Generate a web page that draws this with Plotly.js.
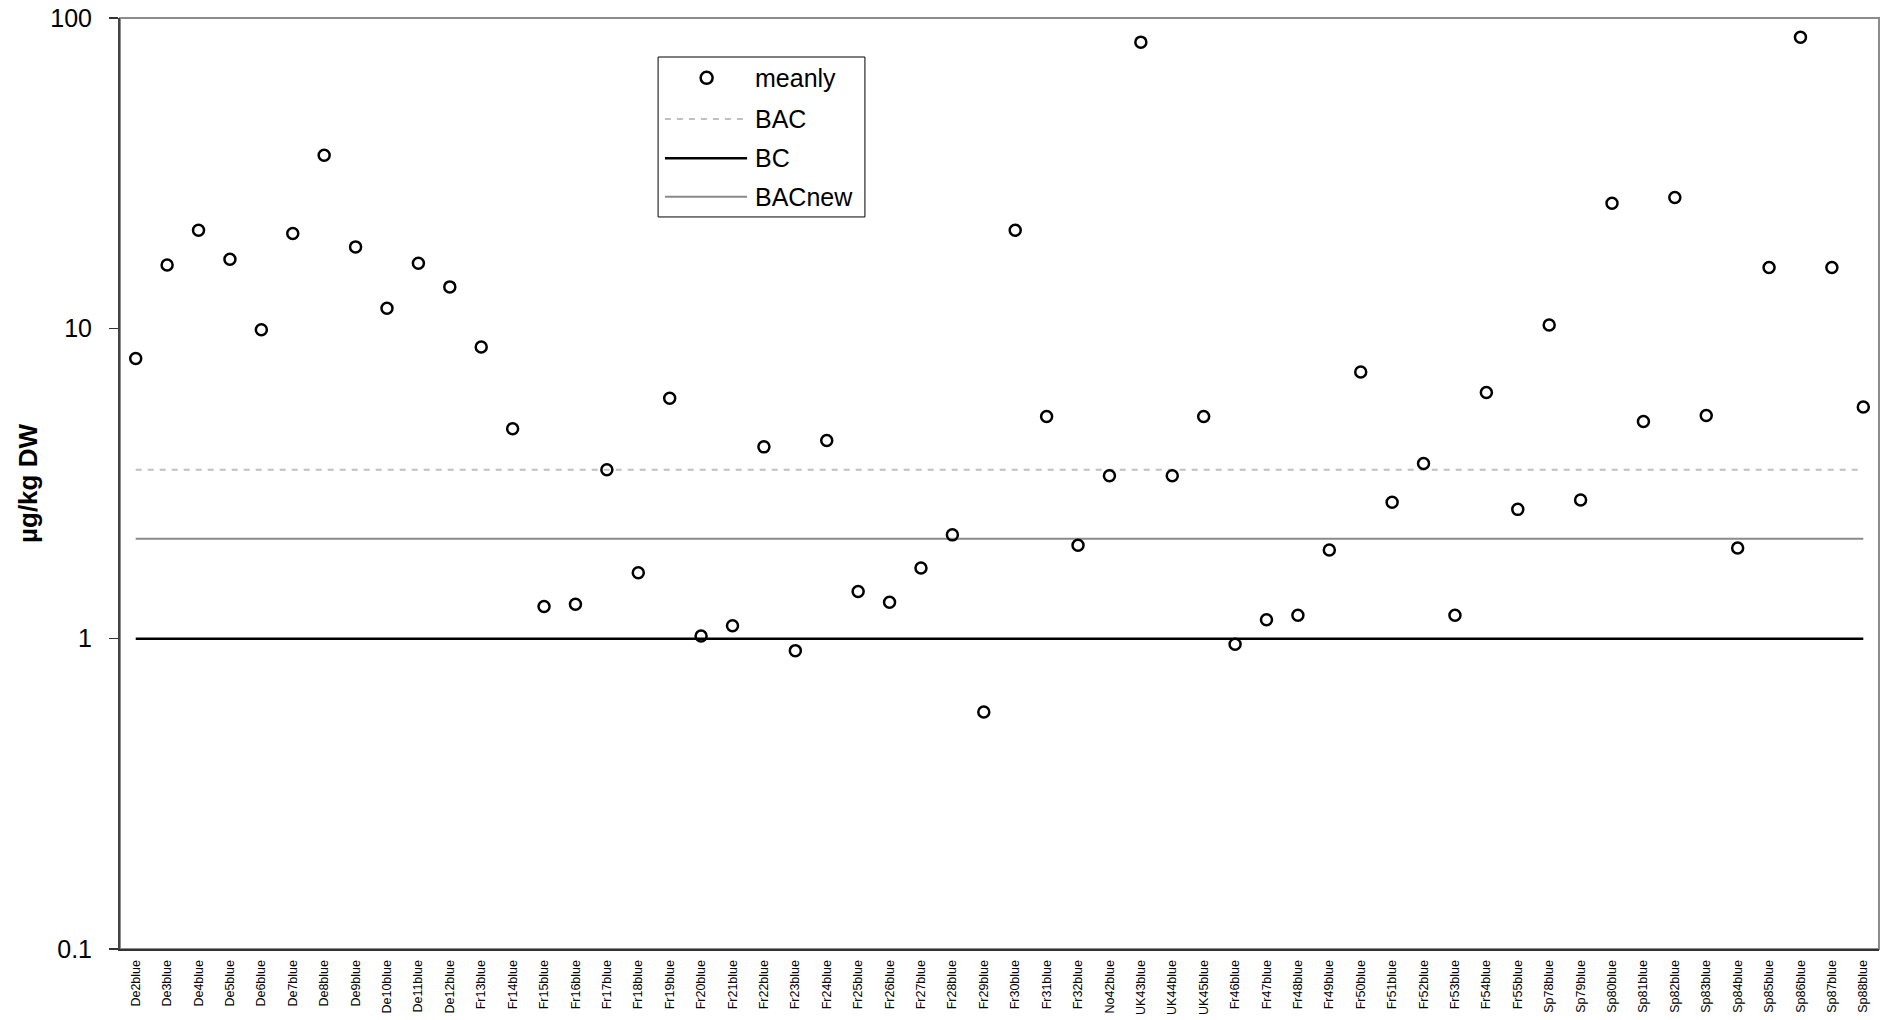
<!DOCTYPE html>
<html>
<head>
<meta charset="utf-8">
<script src="https://cdn.plot.ly/plotly-3.0.1.min.js"></script>
<style>
  html, body { margin: 0; padding: 0; background: #ffffff; }
  #chart { width: 1885px; height: 1020px; }
</style>
</head>
<body>
<div id="chart"></div>
<script>
// Sampling stations
const stations = [
  'De2blue','De3blue','De4blue','De5blue','De6blue','De7blue','De8blue','De9blue',
  'De10blue','De11blue','De12blue',
  'Fr13blue','Fr14blue','Fr15blue','Fr16blue','Fr17blue','Fr18blue','Fr19blue',
  'Fr20blue','Fr21blue','Fr22blue','Fr23blue','Fr24blue','Fr25blue','Fr26blue',
  'Fr27blue','Fr28blue','Fr29blue','Fr30blue','Fr31blue','Fr32blue',
  'No42blue','UK43blue','UK44blue','UK45blue',
  'Fr46blue','Fr47blue','Fr48blue','Fr49blue','Fr50blue','Fr51blue','Fr52blue',
  'Fr53blue','Fr54blue','Fr55blue',
  'Sp78blue','Sp79blue','Sp80blue','Sp81blue','Sp82blue','Sp83blue','Sp84blue',
  'Sp85blue','Sp86blue','Sp87blue','Sp88blue'
];

// Mean concentration per station (µg/kg DW)
const meanly = [
  8.0, 16.0, 20.7, 16.7, 9.9, 20.2, 36.1, 18.3,
  11.6, 16.2, 13.6,
  8.7, 4.75, 1.27, 1.29, 3.5, 1.63, 5.95,
  1.02, 1.10, 4.15, 0.915, 4.35, 1.42, 1.31,
  1.69, 2.16, 0.58, 20.7, 5.2, 2.0,
  3.35, 83.6, 3.35, 5.2,
  0.96, 1.15, 1.19, 1.93, 7.23, 2.75, 3.67,
  1.19, 6.21, 2.61,
  10.25, 2.80, 25.3, 5.01, 26.4, 5.24, 1.96,
  15.7, 86.7, 15.7, 5.58
];

// Assessment criteria (µg/kg DW)
const BAC = 3.5;
const BC = 1.0;
const BACnew = 2.1;

// Y axis ticks
const yTickVals = [0.1, 1, 10, 100];
const yTickText = ['0.1', '1', '10', '100'];

const FONT = 'Liberation Sans, Arial, sans-serif';

const styles = {
  meanly: { marker: { symbol: 'circle-open', size: 11, color: '#000000', line: { color: '#000000', width: 2.5 } } },
  BAC:    { line: { color: '#c0c0c0', width: 2, dash: '6px,6px' } },
  BC:     { line: { color: '#000000', width: 2.5 } },
  BACnew: { line: { color: '#8a8a8a', width: 2 } }
};

const first = stations[0];
const last = stations[stations.length - 1];

const traces = [
  { type: 'scatter', mode: 'lines', name: 'BAC', x: [first, last], y: [BAC, BAC],
    line: styles.BAC.line, hoverinfo: 'name+y', showlegend: false },
  { type: 'scatter', mode: 'lines', name: 'BACnew', x: [first, last], y: [BACnew, BACnew],
    line: styles.BACnew.line, hoverinfo: 'name+y', showlegend: false },
  { type: 'scatter', mode: 'lines', name: 'BC', x: [first, last], y: [BC, BC],
    line: styles.BC.line, hoverinfo: 'name+y', showlegend: false },
  { type: 'scatter', mode: 'markers', name: 'meanly', x: stations, y: meanly,
    marker: styles.meanly.marker, showlegend: false }
];

// Legend box drawn in paper coordinates
const legendBox = { x0: 0.3059, x1: 0.4235, y0: 0.7863, y1: 0.9581 };
const legendLineX = [0.3098, 0.3565];
const legendMarkerX = 0.3335;
const legendTextX = 0.3599;
const legendEntries = [
  { name: 'meanly', y: 0.9358, kind: 'marker' },
  { name: 'BAC',    y: 0.8915, kind: 'line' },
  { name: 'BC',     y: 0.8493, kind: 'line' },
  { name: 'BACnew', y: 0.8080, kind: 'line' }
];

const shapes = [
  // plot frame (top and right edges in grey)
  { type: 'rect', xref: 'paper', yref: 'paper', x0: 0, x1: 1, y0: 0, y1: 1,
    line: { color: '#8c8c8c', width: 2 }, layer: 'below' },
  // legend frame
  { type: 'rect', xref: 'paper', yref: 'paper',
    x0: legendBox.x0, x1: legendBox.x1, y0: legendBox.y0, y1: legendBox.y1,
    line: { color: '#000000', width: 1 }, fillcolor: '#ffffff', layer: 'above' }
];
const annotations = [];

legendEntries.forEach(e => {
  if (e.kind === 'line') {
    const ln = styles[e.name].line;
    shapes.push({ type: 'line', xref: 'paper', yref: 'paper',
      x0: legendLineX[0], x1: legendLineX[1], y0: e.y, y1: e.y,
      line: { color: ln.color, width: ln.width, dash: ln.dash || 'solid' }, layer: 'above' });
  } else {
    const m = styles[e.name].marker;
    const r = m.size / 2 + 0.5;
    shapes.push({ type: 'circle', xref: 'paper', yref: 'paper',
      xsizemode: 'pixel', ysizemode: 'pixel', xanchor: legendMarkerX, yanchor: e.y,
      x0: -r, x1: r, y0: -r, y1: r,
      line: { color: m.line.color, width: m.line.width }, layer: 'above' });
  }
  annotations.push({ xref: 'paper', yref: 'paper', x: legendTextX, y: e.y,
    xanchor: 'left', yanchor: 'middle', showarrow: false, text: e.name,
    font: { family: FONT, size: 25, color: '#000000' } });
});

const layout = {
  width: 1885,
  height: 1020,
  margin: { l: 120, r: 6, t: 18, b: 71, pad: 0 },
  paper_bgcolor: '#ffffff',
  plot_bgcolor: '#ffffff',
  showlegend: false,
  font: { family: FONT, color: '#000000' },
  xaxis: {
    type: 'category',
    categoryorder: 'array',
    categoryarray: stations,
    range: [-0.5, stations.length - 0.5],
    showgrid: false,
    zeroline: false,
    showline: true,
    linecolor: '#333333',
    linewidth: 2,
    ticks: '',
    tickangle: -90,
    ticklabelstandoff: 4,
    tickfont: { family: FONT, size: 12.5, color: '#000000' },
    automargin: false
  },
  yaxis: {
    type: 'log',
    range: [-1, 2],
    tickvals: yTickVals,
    ticktext: yTickText,
    showgrid: false,
    zeroline: false,
    showline: true,
    linecolor: '#444444',
    linewidth: 2,
    ticks: 'outside',
    ticklen: 9,
    tickwidth: 1.5,
    tickcolor: '#333333',
    ticklabelstandoff: 12,
    tickfont: { family: FONT, size: 25, color: '#000000' },
    title: { text: 'µg/kg DW', font: { family: FONT, size: 26, color: '#000000', weight: 'bold' }, standoff: 5 },
    automargin: false
  },
  shapes: shapes,
  annotations: annotations
};

Plotly.newPlot('chart', traces, layout, { displayModeBar: false, staticPlot: true });
</script>
</body>
</html>
